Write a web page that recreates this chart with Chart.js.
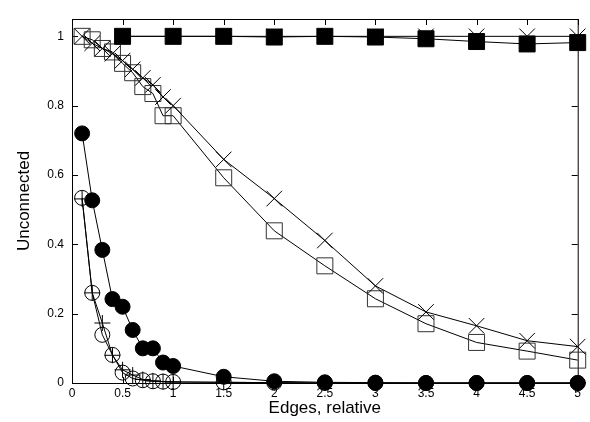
<!DOCTYPE html>
<html>
<head>
<meta charset="utf-8">
<script src="https://cdn.jsdelivr.net/npm/chart.js@4.4.1/dist/chart.umd.min.js"></script>
<style>
  html, body { margin: 0; padding: 0; background: #fff; }
</style>
</head>
<body>
<canvas id="myChart" width="590" height="422"></canvas>
<script>
'use strict';

//x positions of the measurements
const edgesFine = [0.1, 0.2, 0.3, 0.4, 0.5, 0.6, 0.7, 0.8, 0.9, 1, 1.5, 2, 2.5, 3, 3.5, 4, 4.5, 5];
const edgesHalf = [0.5, 1, 1.5, 2, 2.5, 3, 3.5, 4, 4.5, 5];

//series values
const crossDecay = [1.0, 0.98, 0.965, 0.95, 0.93, 0.905, 0.88, 0.86, 0.825, 0.80, 0.645, 0.532, 0.411, 0.28, 0.205, 0.165, 0.122, 0.105];
const squareDecay = [1.0, 0.99, 0.965, 0.955, 0.922, 0.895, 0.855, 0.835, 0.771, 0.771, 0.592, 0.439, 0.338, 0.243, 0.171, 0.117, 0.092, 0.066];
const filledSquare = [1, 1, 1, 0.998, 1, 0.998, 0.993, 0.985, 0.978, 0.982];
const flatCross = [1, 1, 1, 1, 1, 1, 1, 1, 1, 1];
const filledCircle = [0.72, 0.527, 0.384, 0.242, 0.22, 0.153, 0.10, 0.10, 0.059, 0.049, 0.018, 0.005, 0.002, 0.001, 0, 0, 0, 0];
const openCircle = [0.534, 0.26, 0.139, 0.081, 0.03, 0.013, 0.008, 0.005, 0.004, 0.003, 0.002, 0.001, 0, 0, 0, 0, 0, 0];
const plusSeries = [0.531, 0.26, 0.173, 0.08, 0.038, 0.023, 0.01, 0.006, 0.004, 0.003, 0.002, 0.001, 0, 0, 0, 0, 0, 0];

//tick labels
const xTicks = [0, 0.5, 1, 1.5, 2, 2.5, 3, 3.5, 4, 4.5, 5];
const yTicks = [0, 0.2, 0.4, 0.6, 0.8, 1];

const fontFamily = "'Liberation Sans', Arial, Helvetica, sans-serif";

function pairUp(xs, ys) {
  return xs.map((x, i) => ({x: x, y: ys[i]}));
}

function makeSeries(xs, ys, style, radius, fill, stroke) {
  return {
    data: pairUp(xs, ys),
    showLine: true,
    borderColor: '#000',
    borderWidth: 1,
    pointStyle: style,
    pointRadius: radius,
    pointBackgroundColor: fill,
    pointBorderColor: stroke || '#000',
    pointBorderWidth: 1,
    tension: 0,
    clip: false
  };
}

//gnuplot-ish box with inward ticks on all four sides
const boxFrame = {
  id: 'boxFrame',
  beforeDatasetsDraw(chart) {
    const {ctx, chartArea: a, scales: {x, y}} = chart;
    ctx.save();
    ctx.strokeStyle = '#000';
    ctx.lineWidth = 1;
    ctx.strokeRect(a.left + 0.5, a.top + 0.5, a.right - a.left, a.bottom - a.top);
    ctx.beginPath();
    x.ticks.forEach(function(t) {
      const px = Math.round(x.getPixelForValue(t.value)) + 0.5;
      ctx.moveTo(px, a.bottom); ctx.lineTo(px, a.bottom - 6);
      ctx.moveTo(px, a.top); ctx.lineTo(px, a.top + 6);
    });
    y.ticks.forEach(function(t) {
      const py = Math.round(y.getPixelForValue(t.value)) + 0.5;
      ctx.moveTo(a.left, py); ctx.lineTo(a.left + 6, py);
      ctx.moveTo(a.right, py); ctx.lineTo(a.right - 6, py);
    });
    ctx.stroke();
    ctx.restore();
  }
};

const ctx = document.getElementById('myChart').getContext('2d');

new Chart(ctx, {
  type: 'scatter',
  data: {
    datasets: [
      makeSeries(edgesHalf, filledSquare, 'rect', 11.3, '#000'),
      makeSeries(edgesFine, filledCircle, 'circle', 7.5, '#000'),
      makeSeries(edgesHalf, flatCross, 'crossRot', 11, 'rgba(0,0,0,0)'),
      makeSeries(edgesFine, crossDecay, 'crossRot', 11, 'rgba(0,0,0,0)'),
      makeSeries(edgesFine, squareDecay, 'rect', 11.3, 'rgba(0,0,0,0)', '#333'),
      makeSeries(edgesFine, openCircle, 'circle', 7.5, 'rgba(0,0,0,0)'),
      makeSeries(edgesFine, plusSeries, 'cross', 8, 'rgba(0,0,0,0)')
    ]
  },
  options: {
    responsive: false,
    animation: false,
    devicePixelRatio: 1,
    layout: {padding: {top: 19, right: 8, left: 0, bottom: 0}},
    plugins: {
      legend: {display: false},
      tooltip: {enabled: false}
    },
    scales: {
      x: {
        type: 'linear',
        min: 0,
        max: 5,
        afterBuildTicks: function(scale) {
          scale.ticks = xTicks.map(v => ({value: v}));
        },
        afterFit: function(scale) { scale.height = 39; },
        grid: {display: false, drawTicks: false},
        border: {display: false},
        ticks: {
          padding: 3,
          color: '#000',
          font: {family: fontFamily, size: 12},
          callback: v => String(v)
        },
        title: {
          display: true,
          text: 'Edges, relative',
          color: '#000',
          font: {family: fontFamily, size: 17},
          padding: {top: 0, bottom: 3}
        }
      },
      y: {
        min: 0,
        max: 1.05,
        afterBuildTicks: function(scale) {
          scale.ticks = yTicks.map(v => ({value: v}));
        },
        afterFit: function(scale) { scale.width = 72; },
        grid: {display: false, drawTicks: false},
        border: {display: false},
        ticks: {
          padding: 8,
          color: '#000',
          font: {family: fontFamily, size: 12},
          callback: v => String(v)
        },
        title: {
          display: true,
          text: 'Unconnected',
          color: '#000',
          font: {family: fontFamily, size: 17},
          padding: {top: 14, bottom: 0}
        }
      }
    }
  },
  plugins: [boxFrame]
});
</script>
</body>
</html>
